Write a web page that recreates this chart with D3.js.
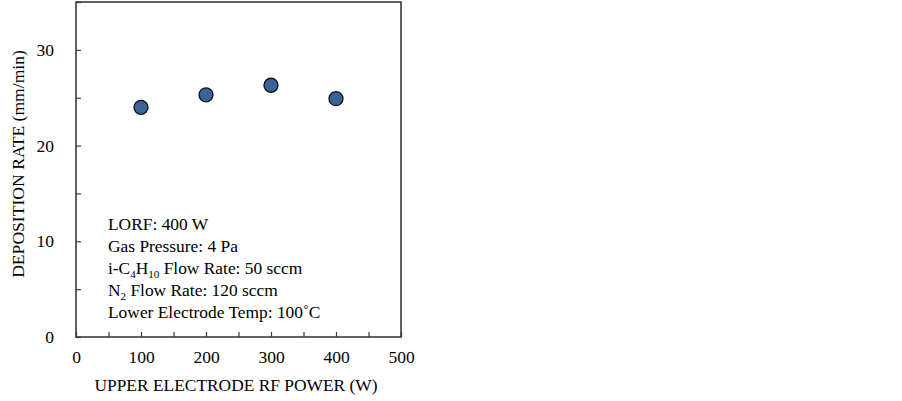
<!DOCTYPE html>
<html>
<head>
<meta charset="utf-8">
<script src="https://cdn.jsdelivr.net/npm/d3@7"></script>
<style>
body { margin: 0; background: #fff; }
text { font-family: "Liberation Serif", "Times New Roman", serif; fill: #000; }
</style>
</head>
<body>
<div id="chart"></div>
<script>
var power = [100, 200, 300, 400];
var rate = [24.0, 25.3, 26.3, 24.9];
var xTicks = [0, 50, 100, 150, 200, 250, 300, 350, 400, 450, 500];
var yTicks = [0, 5, 10, 15, 20, 25, 30, 35];
var notes = ["LORF: 400 W", "Gas Pressure: 4 Pa", "i-C|4|H|10| Flow Rate: 50 sccm", "N|2| Flow Rate: 120 sccm", "Lower Electrode Temp: 100˚C"];

var width = 902, height = 401;
var plotLeft = 76, plotRight = 401, plotTop = 2, plotBottom = 337;

var svg = d3.select("#chart").append("svg")
	.attr("width", width)
	.attr("height", height);

var x = d3.scaleLinear().domain([0, 500]).range([plotLeft, plotRight]);
var y = d3.scaleLinear().domain([0, 35]).range([plotBottom, plotTop]);

// frame
svg.append("rect")
	.attr("x", plotLeft).attr("y", plotTop)
	.attr("width", plotRight - plotLeft).attr("height", plotBottom - plotTop)
	.attr("fill", "none")
	.attr("stroke", "#3a3a3a")
	.attr("stroke-width", 1.6);

var xAxis = svg.append("g")
	.attr("transform", "translate(0," + plotBottom + ")")
	.call(d3.axisBottom(x)
		.tickValues(xTicks)
		.tickSize(-5)
		.tickPadding(14)
		.tickFormat(function(d) { return d % 100 == 0 ? d : ""; }));

var yAxis = svg.append("g")
	.attr("transform", "translate(" + plotLeft + ",0)")
	.call(d3.axisLeft(y)
		.tickValues(yTicks)
		.tickSize(-5)
		.tickPadding(22)
		.tickFormat(function(d) { return d % 10 == 0 && d < 35 ? d : ""; }));

[xAxis, yAxis].forEach(function(a) {
	a.select(".domain").remove();
	a.selectAll(".tick line").attr("stroke", "#3a3a3a").attr("stroke-width", 1.2);
	a.selectAll(".tick text")
		.style("font-family", "Liberation Serif, serif")
		.style("font-size", "17.5px")
		.attr("fill", "#000");
});

// axis titles
svg.append("text")
	.attr("x", 236)
	.attr("y", 391)
	.attr("text-anchor", "middle")
	.style("font-size", "17.4px")
	.text("UPPER ELECTRODE RF POWER (W)");

svg.append("text")
	.attr("transform", "translate(24,164) rotate(-90)")
	.attr("text-anchor", "middle")
	.style("font-size", "17.6px")
	.text("DEPOSITION RATE (mm/min)");

// points
svg.append("g")
	.selectAll("circle")
	.data(power)
	.enter()
	.append("circle")
	.attr("cx", function(d) { return x(d); })
	.attr("cy", function(d, i) { return y(rate[i]); })
	.attr("r", 7)
	.attr("fill", "#3b6399")
	.attr("stroke", "#111")
	.attr("stroke-width", 1.3);

// conditions text, "|" toggles subscript
var noteG = svg.append("g");
notes.forEach(function(line, i) {
	var t = noteG.append("text")
		.attr("x", 108)
		.attr("y", 230 + i * 22)
		.style("font-size", "17.4px");
	line.split("|").forEach(function(part, k) {
		if (part === "") return;
		var s = t.append("tspan").text(part);
		if (k % 2 == 1) {
			s.style("font-size", "11px").attr("dy", 4);
		} else if (k > 0) {
			s.attr("dy", -4);
		}
	});
});
</script>
</body>
</html>
